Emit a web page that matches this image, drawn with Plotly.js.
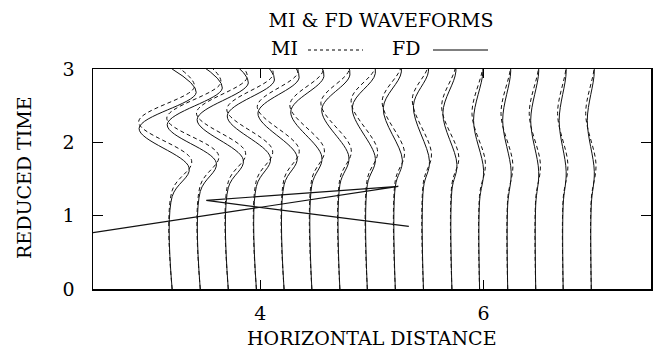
<!DOCTYPE html>
<html><head><meta charset="utf-8">
<script src="https://cdn.plot.ly/plotly-3.0.1.min.js"></script>
<style>html,body{margin:0;padding:0;background:#fff}#chart{width:657px;height:360px}</style>
</head><body><div id="chart"></div>
<script>
// trace base positions (horizontal distance)
const traceX = [3.209,3.461,3.712,3.964,4.212,4.461,4.712,4.958,5.209,5.461,5.716,5.964,6.216,6.467,6.713,6.965];
// FD (solid) key points: time of onset, lobes, end; lobe displacements
const fdOnset = [1.26,1.33,1.38,1.40,1.42,1.42,1.42,1.42,1.40,1.38,1.35,1.20,1.15,1.15,1.15,1.15];
const fdLowT  = [1.65,1.72,1.76,1.79,1.80,1.80,1.80,1.78,1.76,1.74,1.70,1.62,1.60,1.60,1.60,1.60];
const fdLowA  = [0.153,0.144,0.135,0.126,0.117,0.090,0.081,0.072,0.063,0.054,0.045,0.036,0.031,0.027,0.027,0.027];
const fdMidT  = [2.19,2.24,2.31,2.36,2.40,2.42,2.45,2.48,2.47,2.50,2.40,2.30,2.30,2.30,2.30,2.30];
const fdMidA  = [0.296,0.296,0.279,0.261,0.234,0.189,0.162,0.135,0.108,0.090,0.081,0.054,0.045,0.045,0.036,0.036];
const fdTopT  = [2.68,2.74,2.81,2.85,2.88,2.90,2.92,2.94,2.96,2.97,2.97,2.97,2.97,2.97,2.97,2.97];
const fdTopA  = [0.216,0.198,0.180,0.162,0.135,0.108,0.090,0.072,0.054,0.045,0.036,0.030,0.027,0.027,0.027,0.027];
const fdEnd   = [3.00,3.06,3.13,3.17,3.20,3.22,3.24,3.26,3.28,3.29,3.29,3.29,3.29,3.29,3.29,3.29];
// MI (dashed) key points
const miOnset = [1.34,1.41,1.46,1.48,1.50,1.50,1.50,1.50,1.48,1.46,1.43,1.28,1.23,1.23,1.23,1.23];
const miLowT  = [1.75,1.82,1.86,1.89,1.90,1.90,1.90,1.88,1.86,1.84,1.80,1.72,1.70,1.70,1.70,1.70];
const miLowA  = [0.175,0.165,0.155,0.145,0.135,0.112,0.102,0.092,0.082,0.072,0.062,0.052,0.046,0.042,0.042,0.042];
const miMidT  = [2.28,2.33,2.40,2.45,2.49,2.51,2.54,2.57,2.56,2.59,2.49,2.39,2.39,2.39,2.39,2.39];
const miMidA  = [0.300,0.300,0.285,0.265,0.240,0.197,0.170,0.145,0.118,0.100,0.092,0.068,0.060,0.058,0.050,0.050];
const miTopT  = [2.76,2.82,2.89,2.93,2.96,2.98,3.00,3.02,3.04,3.05,3.05,3.05,3.05,3.05,3.05,3.05];
const miTopA  = [0.200,0.185,0.170,0.150,0.125,0.100,0.085,0.068,0.052,0.043,0.035,0.030,0.027,0.027,0.027,0.027];
const miEnd   = [3.08,3.14,3.21,3.25,3.28,3.30,3.32,3.34,3.36,3.37,3.37,3.37,3.37,3.37,3.37,3.37];
// straight polyline
const lineX = [2.5, 5.236, 3.515, 5.33];
const lineY = [0.768, 1.40, 1.208, 0.854];
// tick values
const xTicks = [4, 6];
const yTicks = [0, 1, 2, 3];

const traces = [];
function addWave(i, on, lt, la, mt, ma, tt, ta, en, dash) {
  const b = traceX[i];
  traces.push({
    type: 'scatter', mode: 'lines', showlegend: false, hoverinfo: 'skip',
    x: [b, b, b + la, b - ma, b + ta, b],
    y: [0, on, lt, mt, tt, en],
    line: {color: '#111', width: 1, shape: 'spline', smoothing: 1, dash: dash}
  });
}
for (let i = 0; i < traceX.length; i++) {
  addWave(i, miOnset[i], miLowT[i], miLowA[i], miMidT[i], miMidA[i], miTopT[i], miTopA[i], miEnd[i], '4px,3px');
  addWave(i, fdOnset[i], fdLowT[i], fdLowA[i], fdMidT[i], fdMidA[i], fdTopT[i], fdTopA[i], fdEnd[i], 'solid');
}
traces.push({type: 'scatter', mode: 'lines', x: lineX, y: lineY, showlegend: false, hoverinfo: 'skip',
  line: {color: '#111', width: 1.2}});

const font = 'DejaVu Serif, Liberation Serif, serif';
const W = 558, H = 220, L = 93, B = 71;
const px = v => (v - L) / W;          // pixel x -> paper x
const py = v => (360 - B - v) / H;    // pixel y -> paper y
const layout = {
  width: 657, height: 360,
  margin: {l: L, r: 6, t: 69, b: B},
  paper_bgcolor: '#fff', plot_bgcolor: '#fff',
  font: {family: font, color: '#000', size: 19},
  showlegend: false,
  title: {text: 'MI &amp; FD WAVEFORMS', x: px(381), xref: 'paper', xanchor: 'center', y: 1 - 20 / 360, yanchor: 'middle',
    font: {family: font, size: 19, color: '#000'}},
  xaxis: {range: [2.5, 7.5], tickvals: xTicks, ticktext: xTicks.map(String), ticks: 'inside', ticklen: 9,
    tickcolor: '#000', mirror: 'ticks', showline: true, linecolor: '#000', linewidth: 1.5,
    showgrid: false, zeroline: false, ticklabelstandoff: 7, tickfont: {size: 19}},
  yaxis: {range: [0, 3], tickvals: yTicks, ticktext: yTicks.map(String), ticks: 'inside', ticklen: 10,
    tickcolor: '#000', mirror: 'ticks', showline: true, linecolor: '#000', linewidth: 1.5,
    showgrid: false, zeroline: false, ticklabelstandoff: 13, tickfont: {size: 19}},
  annotations: [
    {text: 'HORIZONTAL DISTANCE', xref: 'paper', yref: 'paper', x: px(372), y: py(338), xanchor: 'center', yanchor: 'middle', showarrow: false, font: {size: 19}},
    {text: 'REDUCED TIME', xref: 'paper', yref: 'paper', x: px(24), y: py(178), xanchor: 'center', yanchor: 'middle', textangle: -90, showarrow: false, font: {size: 19}},
    {text: 'MI', xref: 'paper', yref: 'paper', x: px(284), y: py(48), xanchor: 'center', yanchor: 'middle', showarrow: false, font: {size: 19}},
    {text: 'FD', xref: 'paper', yref: 'paper', x: px(406), y: py(48), xanchor: 'center', yanchor: 'middle', showarrow: false, font: {size: 19}}
  ],
  shapes: [
    {type: 'line', xref: 'paper', yref: 'paper', x0: px(308), x1: px(363), y0: py(50), y1: py(50), line: {color: '#000', width: 1, dash: '3px,3px'}},
    {type: 'line', xref: 'paper', yref: 'paper', x0: px(433), x1: px(488), y0: py(50), y1: py(50), line: {color: '#000', width: 1}}
  ]
};
Plotly.newPlot('chart', traces, layout, {staticPlot: true, displayModeBar: false});
</script></body></html>
